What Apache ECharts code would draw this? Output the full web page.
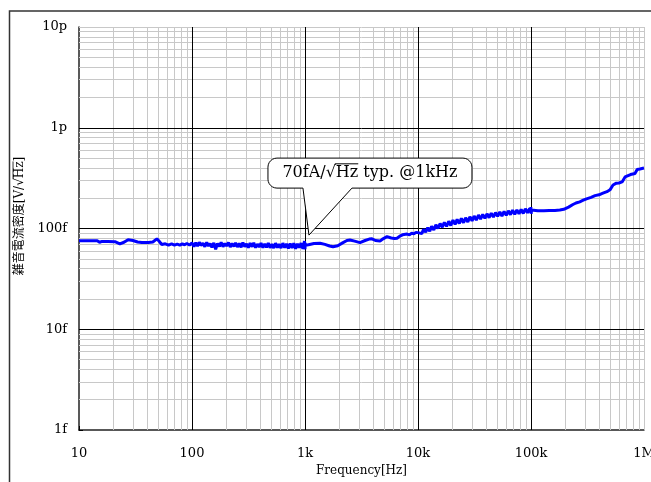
<!DOCTYPE html>
<html><head><meta charset="utf-8">
<script src="https://cdn.jsdelivr.net/npm/echarts@6/dist/echarts.min.js"></script>
<style>html,body{margin:0;padding:0;background:#fff;overflow:hidden}#c{width:651px;height:482px}</style>
</head><body><div id="c"></div>
<script>
// ---- data ----
const freqHz = [
 10,12,14.5,15.2,16,18,20.8,23,25,27.2,30,33,36,41,45,48.9,51,54,58,62,66,70,74,78,82,86,90,95,
 100,104,108,112,116,120,125,130,135,140,145,150,156,162,168,175,181,188,195,202,210,218,226,235,243,252,262,272,282,293,304,315,327,340,352,365,379,393,408,424,440,456,473,491,510,529,549,570,591,613,637,661,686,712,739,767,796,826,857,889,923,958,990,1000,1003,
 1010,1100,1200,1358,1500,1650,1771,1950,2150,2350,2500,2750,3066,3400,3700,3915,4200,4613,4900,5320,5800,6200,6520,6900,7300,7600,8000,8400,8800,9200,9600,10000,
 10400,10800,11200,11700,12200,12700,13200,13800,14400,15000,15700,16400,17100,17900,18700,19500,20400,21300,22200,23200,24200,25300,26400,27600,28800,30100,31400,32800,34300,35800,37400,39100,40800,42600,44500,46500,48600,50700,53000,55300,57800,60400,63000,65800,68700,71800,75000,78300,81800,85400,89200,93200,97300,99000,99700,100300,101000,
 103000,115000,130000,145000,163000,180000,195000,215000,235000,250000,270000,290000,310000,340000,368600,400000,433000,470000,500000,532000,570000,600000,614000,640000,680000,708000,760000,832000,870000,920000,1000000
];
const noiseFA = [
 75.5,75.5,75.5,73,74.5,74.5,74,70.5,73,77.5,76,73.5,72.5,72.5,73.5,79,75,69.5,70.5,68.5,70.5,68.5,70,68.5,70.5,69,71,68.5,
 72,66,72.5,67,73,68,71.5,66,73,67,71,65,72,62,71,66.5,73,66,71,67,72.5,65.5,71,66.5,72,65.5,71,65,72.5,66,70.5,64.5,71.5,66,72,64.5,70,65.5,71.5,64.5,70.5,65,71.5,64.5,70,64,71.5,64.5,70,64,71.5,64.5,70.5,63.5,71,64,71.5,63,70.5,64.5,71.5,63,75,62,72,
 68,69.5,71,71.5,69.5,67,66,67.5,72,76,77,75,72.5,76,78.5,79,76,75,79,83,80.5,79.5,80,84,86.5,85,88,86.5,90,88.5,91.5,91,
 95,89,98,92,102,94,105,97,109,100,112,103,115,105,118,107,121,110,123,112,126,114,128,116,131,119,133,121,136,124,138,126,140,128,142,130,144,132,146,133,148,135,150,137,152,138,153,140,155,141,157,143,158,144,163,140,153,
 150,150,150,150.5,151,152.5,155,163,173,179,184,191,197,204,212,216,224,232,242,270,282,283,272,290,325,339,343,352,385,390,398
];
const xTicks = [10,100,1000,10000,100000,1000000];
const xTickLabels = ['10','100','1k','10k','100k','1M'];
const yTicks = [1,10,100,1000,10000];
const yTickLabels = ['1f','10f','100f','1p','10p'];
const xTitle = 'Frequency[Hz]';
const yTitleParts = ['雑音電流密度[V/√', 'Hz', ']'];
const calloutParts = ['70fA/√', 'Hz', ' typ. @1kHz'];
const calloutAt = [1084, 86];

// ---- chart ----
const chart = echarts.init(document.getElementById('c'), null, {renderer:'canvas'});
const F = '"DejaVu Serif", "Noto Sans CJK JP", serif';
function lab(ticks, labels){ return v => { for (let i=0;i<ticks.length;i++){ if (Math.abs(v-ticks[i])/ticks[i] < 1e-6) return labels[i]; } return ''; }; }
function minorVals(ticks){ const out=[]; for(let i=0;i<ticks.length-1;i++){ for(let m=2;m<=9;m++) out.push(ticks[i]*m);} return out; }
const xMinor = minorVals(xTicks).concat([xTicks[xTicks.length-1]]);
const yMinor = minorVals(yTicks).concat([yTicks[yTicks.length-1]]);
const xMajor = xTicks.slice(1,-1), yMajor = yTicks.slice(1,-1);
const ml = (xs, ys) => xs.map(v=>({xAxis:v})).concat(ys.map(v=>({yAxis:v})));

function axisCommon(){
  return {
    axisLine:{show:true,onZero:false,lineStyle:{color:'#222',width:1.5}},
    axisTick:{show:true,inside:true,length:4,lineStyle:{color:'#000',width:1}},
    splitLine:{show:false}, minorTick:{show:false}, minorSplitLine:{show:false}
  };
}
const option = {
  animation:false,
  grid:{left:79,right:7,top:27,bottom:52,outerBoundsMode:'none',containLabel:false},
  xAxis:Object.assign(axisCommon(),{
    type:'log', logBase:10, min:10, max:1000000,
    name:xTitle, nameLocation:'middle', nameGap:34,
    nameTextStyle:{fontFamily:F,fontSize:12,color:'#000'},
    axisLabel:{margin:17,fontFamily:F,fontSize:13,color:'#000',formatter:lab(xTicks,xTickLabels),showMaxLabel:true}
  }),
  yAxis:Object.assign(axisCommon(),{
    type:'log', logBase:10, min:1, max:10000,
    axisLabel:{margin:12,fontFamily:F,fontSize:13,color:'#000',formatter:lab(yTicks,yTickLabels)}
  }),
  series:[
    {type:'line', data:[], z:1, silent:true,
     markLine:{z:1, silent:true, animation:false, symbol:['none','none'], label:{show:false},
       emphasis:{disabled:true}, lineStyle:{color:'#c8c8c8',width:1,type:'solid'}, data:ml(xMinor,yMinor)}},
    {type:'line', data:[], z:2, silent:true,
     markLine:{z:2, silent:true, animation:false, symbol:['none','none'], label:{show:false},
       emphasis:{disabled:true}, lineStyle:{color:'#000',width:1,type:'solid'}, data:ml(xMajor,yMajor)}},
    {type:'line', z:10, silent:true, showSymbol:false, symbol:'none',
     data:freqHz.map((f,i)=>[f,noiseFA[i]]),
     lineStyle:{color:'#0000ff',width:3}}
  ]
};
chart.setOption(option);

// ---- annotations ----
const ctx = document.createElement('canvas').getContext('2d');
function widths(parts, size){ ctx.font = size+'px '+F; return parts.map(p=>ctx.measureText(p).width); }
function arc(pts, cx, cy, r, a0, a1){ const n=6; for(let i=0;i<=n;i++){ const a=a0+(a1-a0)*i/n; pts.push([cx+r*Math.cos(a), cy+r*Math.sin(a)]); } }

const tip = chart.convertToPixel({gridIndex:0}, calloutAt);
const L = tip[0]-41, R = tip[0]+163, T = tip[1]-77, B = tip[1]-47, r = 9;
const pL = tip[0]-6, pR = tip[0]+43;
const P = Math.PI;
const pts = [];
arc(pts, L+r, T+r, r, P, 1.5*P);
arc(pts, R-r, T+r, r, 1.5*P, 2*P);
arc(pts, R-r, B-r, r, 0, 0.5*P);
pts.push([pR,B],[tip[0],tip[1]],[pL,B]);
arc(pts, L+r, B-r, r, 0.5*P, P);

const cs = 16;
const cw = widths(calloutParts, cs);
const cW = cw[0]+cw[1]+cw[2];
const cx0 = (L+R)/2 - cW/2, cy = (T+B)/2;
const calloutEls = [
  {type:'polygon', shape:{points:pts}, style:{fill:'#fff',stroke:'#000',lineWidth:1}, z:20},
  {type:'text', x:cx0, y:cy, style:{text:calloutParts[0],font:cs+'px '+F,fill:'#000',textAlign:'left',textVerticalAlign:'middle'}, z:21},
  {type:'text', x:cx0+cw[0], y:cy, style:{text:calloutParts[1],font:cs+'px '+F,fill:'#000',textAlign:'left',textVerticalAlign:'middle'}, z:21},
  {type:'text', x:cx0+cw[0]+cw[1], y:cy, style:{text:calloutParts[2],font:cs+'px '+F,fill:'#000',textAlign:'left',textVerticalAlign:'middle'}, z:21},
  {type:'line', shape:{x1:cx0+cw[0]-1, y1:cy-cs*0.58, x2:cx0+cw[0]+cw[1], y2:cy-cs*0.58}, style:{stroke:'#000',lineWidth:1}, z:21}
];

const ys = 12;
const yw = widths(yTitleParts, ys);
const yW = yw[0]+yw[1]+yw[2];
const y0 = -yW/2;
const yTitle = {type:'group', x:20, y:216, rotation:Math.PI/2, children:[
  {type:'text', x:y0, y:0, style:{text:yTitleParts[0],font:ys+'px '+F,fill:'#000',textAlign:'left',textVerticalAlign:'middle'}},
  {type:'text', x:y0+yw[0], y:0, style:{text:yTitleParts[1],font:ys+'px '+F,fill:'#000',textAlign:'left',textVerticalAlign:'middle'}},
  {type:'text', x:y0+yw[0]+yw[1], y:0, style:{text:yTitleParts[2],font:ys+'px '+F,fill:'#000',textAlign:'left',textVerticalAlign:'middle'}},
  {type:'line', shape:{x1:y0+yw[0]-1, y1:-ys*0.58, x2:y0+yw[0]+yw[1], y2:-ys*0.58}, style:{stroke:'#000',lineWidth:0.8}}
]};

chart.setOption({graphic:[
  {type:'rect', shape:{x:9.5,y:11,width:700,height:600}, style:{fill:'none',stroke:'#333',lineWidth:1.5}, z:0, silent:true},
  yTitle
].concat(calloutEls)});
</script></body></html>
